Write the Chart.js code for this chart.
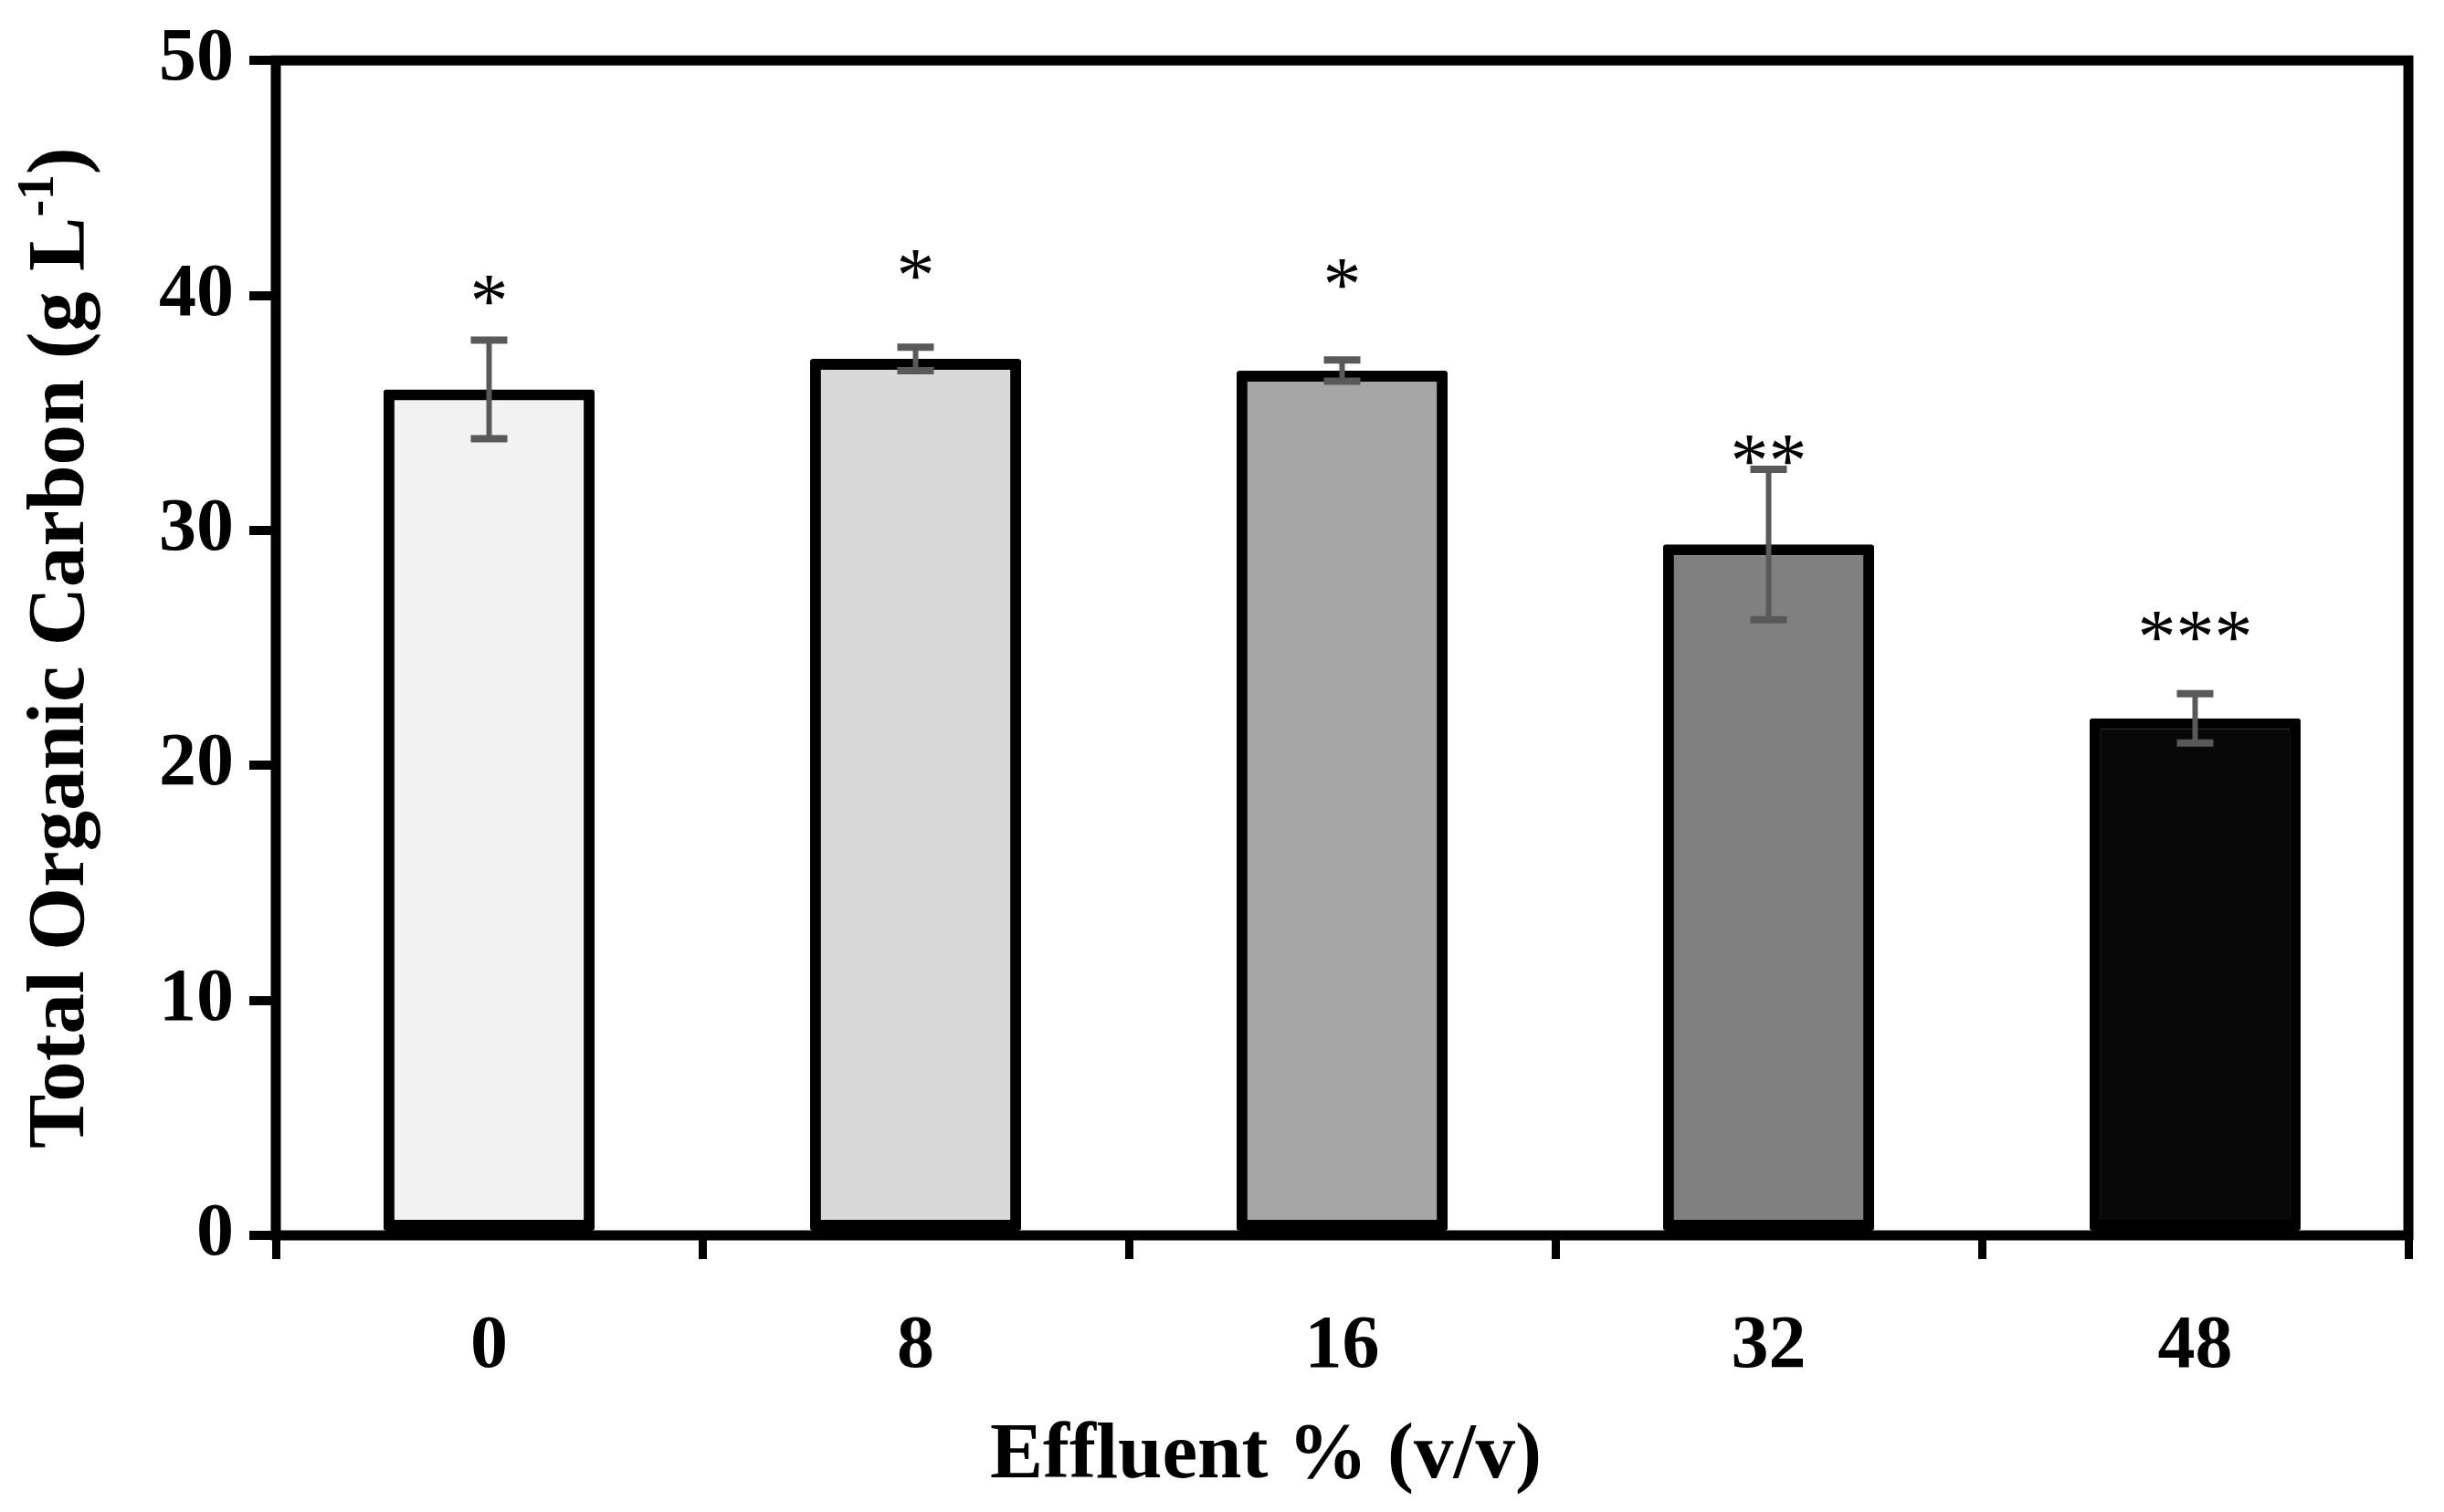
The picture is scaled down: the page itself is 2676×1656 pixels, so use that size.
<!DOCTYPE html>
<html>
<head>
<meta charset="utf-8">
<script src="https://cdn.jsdelivr.net/npm/chart.js@4.4.1/dist/chart.umd.min.js"></script>
<style>
  html, body { margin: 0; padding: 0; background: #fff; }
  #wrap { width: 2676px; height: 1656px; }
</style>
</head>
<body>
<div id="wrap"><canvas id="toc" width="2676" height="1656"></canvas></div>
<script>
// values
const categories = ["0", "8", "16", "32", "48"];
const tocValues = [36.0, 37.3, 36.8, 29.4, 22.0];
const tocErrors = [2.1, 0.5, 0.45, 3.2, 1.05];
const sigLabels = ["*", "*", "*", "**", "***"];
const sigLevels = [40.2, 41.3, 40.9, 33.4, 25.9];
const yTicks = [0, 10, 20, 30, 40, 50];
const barColors = ["#f2f2f2", "#d9d9d9", "#a6a6a6", "#808080", "#080808"];

const serif = "'Liberation Serif', 'Times New Roman', serif";

// error bars drawn from the scales
const errorBars = {
  id: "errorBars",
  afterDatasetsDraw(chart) {
    const ctx = chart.ctx;
    const y = chart.scales.y;
    const meta = chart.getDatasetMeta(0);
    ctx.save();
    ctx.strokeStyle = "#595959";
    meta.data.forEach((bar, i) => {
      const top = y.getPixelForValue(tocValues[i] + tocErrors[i]);
      const bot = y.getPixelForValue(tocValues[i] - tocErrors[i]);
      ctx.lineWidth = 6;
      ctx.beginPath();
      ctx.moveTo(bar.x, top);
      ctx.lineTo(bar.x, bot);
      ctx.stroke();
      ctx.lineWidth = 8;
      ctx.beginPath();
      ctx.moveTo(bar.x - 20, top);
      ctx.lineTo(bar.x + 20, top);
      ctx.moveTo(bar.x - 20, bot);
      ctx.lineTo(bar.x + 20, bot);
      ctx.stroke();
    });
    ctx.restore();
  }
};

// significance stars above the bars
const sigMarks = {
  id: "sigMarks",
  afterDatasetsDraw(chart) {
    const ctx = chart.ctx;
    const y = chart.scales.y;
    const meta = chart.getDatasetMeta(0);
    ctx.save();
    ctx.fillStyle = "#000";
    ctx.font = "84px " + serif;
    ctx.textAlign = "center";
    ctx.textBaseline = "alphabetic";
    meta.data.forEach((bar, i) => {
      ctx.fillText(sigLabels[i], bar.x, y.getPixelForValue(sigLevels[i]) + 40);
    });
    ctx.restore();
  }
};

// box round the plot and the axis titles
const frame = {
  id: "frame",
  afterDraw(chart) {
    const ctx = chart.ctx;
    const a = chart.chartArea;
    ctx.save();
    ctx.strokeStyle = "#000";
    ctx.lineWidth = 11;
    ctx.lineJoin = "miter";
    ctx.strokeRect(a.left, a.top, a.right - a.left, a.bottom - a.top);

    ctx.fillStyle = "#000";
    ctx.textBaseline = "middle";

    // x axis title
    ctx.font = "bold 87px " + serif;
    ctx.textAlign = "center";
    ctx.fillText("Effluent % (v/v)", 1386, 1596);

    // y axis title with superscript
    const main = "Total Organic Carbon (g L";
    const sup = "-1";
    const tail = ")";
    const big = "bold 89px " + serif;
    const small = "bold 56px " + serif;
    ctx.font = big;
    const w1 = ctx.measureText(main).width;
    const w3 = ctx.measureText(tail).width;
    ctx.font = small;
    const w2 = ctx.measureText(sup).width;
    const total = w1 + w2 + w3;
    ctx.translate(68, (a.top + a.bottom) / 2);
    ctx.rotate(-Math.PI / 2);
    ctx.textAlign = "left";
    const x0 = -total / 2;
    ctx.font = big;
    ctx.fillText(main, x0, 0);
    ctx.font = small;
    ctx.fillText(sup, x0 + w1, -24);
    ctx.font = big;
    ctx.fillText(tail, x0 + w1 + w2, 0);
    ctx.restore();
  }
};

new Chart(document.getElementById("toc"), {
  type: "bar",
  data: {
    labels: categories,
    datasets: [{
      data: tocValues,
      backgroundColor: barColors,
      borderColor: "#000",
      borderWidth: 12,
      borderSkipped: false,
      borderRadius: 3,
      barPercentage: 0.495,
      categoryPercentage: 1.0
    }]
  },
  options: {
    responsive: false,
    devicePixelRatio: 1,
    animation: false,
    layout: { padding: { top: 63, right: 39, left: 0, bottom: 0 } },
    plugins: {
      legend: { display: false },
      tooltip: { enabled: false }
    },
    scales: {
      x: {
        offset: true,
        afterFit(scale) { scale.height = 303; },
        border: { display: false },
        grid: {
          offset: true,
          drawOnChartArea: false,
          drawTicks: true,
          tickLength: 26,
          lineWidth: 9,
          color: "#000"
        },
        ticks: {
          color: "#000",
          padding: 48,
          font: { family: serif, size: 82, weight: "bold" }
        }
      },
      y: {
        min: 0,
        max: 50,
        afterFit(scale) { scale.width = 302; },
        afterBuildTicks(scale) { scale.ticks = yTicks.map(v => ({ value: v })); },
        border: { display: false },
        grid: {
          drawOnChartArea: false,
          drawTicks: true,
          tickLength: 29,
          lineWidth: 10,
          color: "#000"
        },
        ticks: {
          color: "#000",
          padding: 17,
          font: { family: serif, size: 82, weight: "bold" }
        }
      }
    }
  },
  plugins: [errorBars, sigMarks, frame]
});
</script>
</body>
</html>
